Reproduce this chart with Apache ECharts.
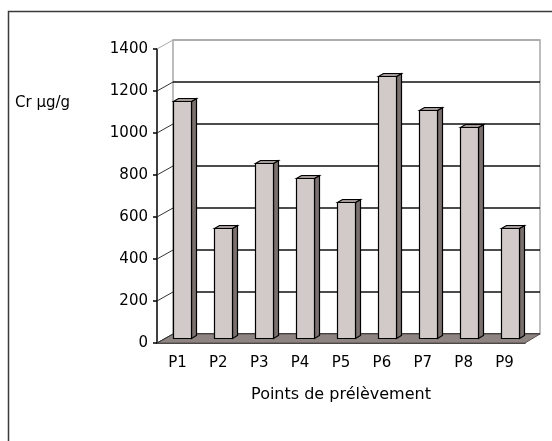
<!DOCTYPE html>
<html>
<head>
<meta charset="utf-8">
<script src="https://cdn.jsdelivr.net/npm/echarts@6/dist/echarts.min.js"></script>
<style>
    html, body { margin: 0; padding: 0; background: #fff; }
    #chart { width: 552px; height: 441px; }
</style>
</head>
<body>
<div id="chart"></div>
<script>
// données
const categories = ['P1', 'P2', 'P3', 'P4', 'P5', 'P6', 'P7', 'P8', 'P9'];
const crValues = [1130, 525, 835, 760, 650, 1250, 1085, 1005, 525];
const yTicks = [0, 200, 400, 600, 800, 1000, 1200, 1400];

const FONT = 'DejaVu Sans';
// décalage de la profondeur (effet 3D)
const DEPTH_X = 16;
const DEPTH_Y = 9;

const px = v => Math.round(v) + 0.5;

const myChart = echarts.init(document.getElementById('chart'));

const option = {
    animation: false,
    backgroundColor: '#fff',
    graphic: [
        {
            type: 'rect',
            shape: {x: 8.5, y: 11.5, width: 600, height: 500},
            style: {fill: null, stroke: '#3a3a3a', lineWidth: 1.5},
        },
        {
            type: 'text',
            left: 15,
            top: 96,
            style: {text: 'Cr µg/g', fill: '#000', font: '15px "DejaVu Sans"'},
        },
    ],
    grid: [
        // plan avant (axes)
        {left: 157, top: 49, width: 368, height: 294},
        // paroi du fond
        {
            left: 173,
            top: 40,
            width: 367,
            height: 294,
            show: true,
            backgroundColor: '#fff',
            borderColor: '#a8a8a8',
            borderWidth: 1.5,
        },
    ],
    xAxis: [
        {
            gridIndex: 0,
            type: 'category',
            data: categories,
            axisLine: {lineStyle: {color: '#000', width: 1.5}},
            axisTick: {length: 5, lineStyle: {color: '#000', width: 1.5}},
            axisLabel: {color: '#000', fontFamily: FONT, fontSize: 15, margin: 13},
            name: 'Points de prélèvement',
            nameLocation: 'middle',
            nameGap: 44,
            nameTextStyle: {color: '#000', fontFamily: FONT, fontSize: 16},
        },
        {gridIndex: 1, type: 'category', data: categories, show: false},
    ],
    yAxis: [
        {
            gridIndex: 0,
            type: 'value',
            min: 0,
            max: 1400,
            interval: 200,
            axisLine: {show: true, lineStyle: {color: '#000', width: 1.5}},
            axisTick: {show: true, length: 4, lineStyle: {color: '#000', width: 1.5}},
            axisLabel: {
                color: '#000',
                fontFamily: FONT,
                fontSize: 15,
                margin: 9,
                formatter: v => String(v),
            },
            splitLine: {show: false},
        },
        {
            gridIndex: 1,
            type: 'value',
            min: 0,
            max: 1400,
            interval: 200,
            axisLine: {show: false},
            axisTick: {show: false},
            axisLabel: {show: false},
            splitLine: {
                show: true,
                lineStyle: {
                    color: ['#000', '#111', '#111', '#111', '#111', '#111', '#111', '#a8a8a8'],
                    width: 1.6,
                },
            },
        },
    ],
    series: [
        {
            // sol
            type: 'custom',
            xAxisIndex: 0,
            yAxisIndex: 0,
            z: 1,
            silent: true,
            data: [[0, 0]],
            renderItem: (params, api) => {
                const cs = params.coordSys;
                const yF = api.coord([0, 0])[1];
                const yB = yF - DEPTH_Y;
                return {
                    type: 'polygon',
                    shape: {
                        points: [
                            [cs.x, yF],
                            [cs.x + DEPTH_X, yB],
                            [cs.x + cs.width + 15, yB],
                            [cs.x + cs.width, yF],
                        ],
                    },
                    style: {fill: '#8e8482', stroke: '#5a5250', lineWidth: 1},
                };
            },
        },
        {
            // liaisons obliques entre l'axe et le fond
            type: 'custom',
            xAxisIndex: 0,
            yAxisIndex: 0,
            z: 2,
            silent: true,
            data: yTicks.map(v => [0, v]),
            renderItem: (params, api) => {
                const cs = params.coordSys;
                const y = api.coord([0, api.value(1)])[1];
                return {
                    type: 'line',
                    shape: {x1: cs.x, y1: y, x2: cs.x + DEPTH_X, y2: y - DEPTH_Y},
                    style: {stroke: api.value(1) === 1400 ? '#a8a8a8' : '#333', lineWidth: 1},
                };
            },
        },
        {
            // colonnes 3D
            type: 'custom',
            name: 'Cr µg/g',
            xAxisIndex: 0,
            yAxisIndex: 0,
            z: 3,
            data: crValues.map((v, i) => [i, v]),
            renderItem: (params, api) => {
                const top = api.coord([api.value(0), api.value(1)]);
                const base = api.coord([api.value(0), 0]);
                const x0 = px(top[0] - 4);
                const x1 = px(top[0] + 14);
                const yT = px(top[1] - 5);
                const yB = px(base[1] - 5);
                const dx = 5;
                const dy = 3;
                return {
                    type: 'group',
                    children: [
                        {
                            type: 'polygon',
                            shape: {points: [[x1, yT], [x1 + dx, yT - dy], [x1 + dx, yB - dy], [x1, yB]]},
                            style: {fill: '#7a716f', stroke: '#000', lineWidth: 1.2},
                        },
                        {
                            type: 'polygon',
                            shape: {points: [[x0, yT], [x0 + dx, yT - dy], [x1 + dx, yT - dy], [x1, yT]]},
                            style: {fill: '#a39a98', stroke: '#000', lineWidth: 1.2},
                        },
                        {
                            type: 'rect',
                            shape: {x: x0, y: yT, width: x1 - x0, height: yB - yT},
                            style: {fill: '#d1cac8', stroke: '#000', lineWidth: 1.2},
                        },
                    ],
                };
            },
        },
    ],
};

myChart.setOption(option);
</script>
</body>
</html>
